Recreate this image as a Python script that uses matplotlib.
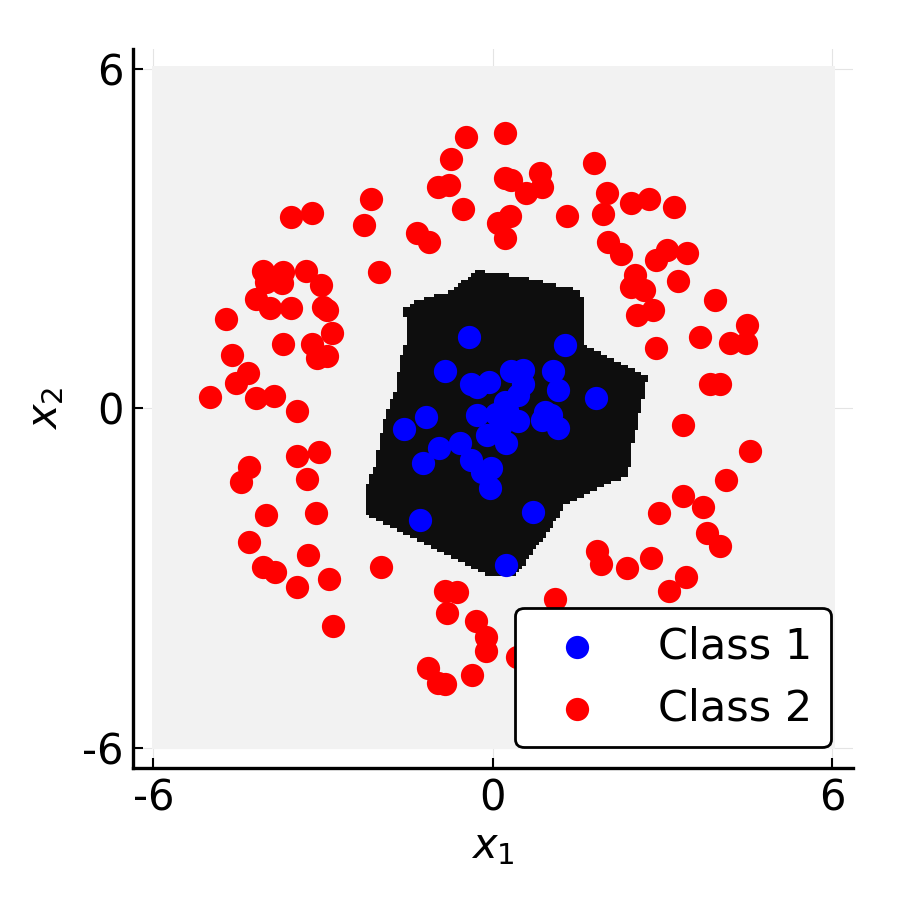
import numpy as np
import matplotlib
matplotlib.use("Agg")
import matplotlib.pyplot as plt
from matplotlib.path import Path
from matplotlib.colors import ListedColormap

# ---- data -------------------------------------------------------------
class1_x = [-0.415, 1.276, -0.845, -0.385, -0.274, -0.062, 0.316, 0.539, 0.539, 0.451,
            1.069, 1.147, 1.824, 0.216, -1.186, -1.564, -0.285, 0.057, 0.246, 0.451,
            0.923, 1.029, 1.158, 0.864, -0.108, 0.233, 0.127, -0.946, -0.580, -1.228,
            -0.385, -0.032, -0.196, -0.049, 0.716, -1.287, 0.233]
class1_y = [1.265, 1.119, 0.661, 0.424, 0.382, 0.470, 0.665, 0.677, 0.424, 0.235,
            0.659, 0.323, 0.187, 0.117, -0.148, -0.371, -0.118, -0.106, -0.030, -0.224,
            -0.060, -0.118, -0.353, -0.207, -0.472, -0.608, -0.325, -0.696, -0.608, -0.972,
            -0.914, -1.050, -1.121, -1.414, -1.827, -1.974, -2.770]

class2_x = [-0.479, 0.216, -0.744, -0.963, -0.769, 0.216, 0.322, -0.532, 0.097, 0.216,
            -2.153, -2.282, -1.345, -1.122, -3.567, -3.201, -2.006, -4.067, -3.703, -3.302,
            -3.042, -4.008, -3.731, -4.185, -3.938, -3.567, -3.006, -2.925, -4.721, -2.837,
            -3.713, -3.201, -2.936, -3.112, -4.615, -4.321, -4.539, -4.998, -4.185, -3.862,
            -3.455, 1.794, 0.834, 0.864, 0.581, 1.306, 2.013, 1.942, 2.437, 2.766,
            3.208, 0.304, 2.031, 2.261, 3.074, 2.884, 3.438, 2.513, 2.437, 2.672,
            3.279, 3.927, 2.543, 2.837, 4.488, 3.662, 2.879, 4.192, 4.470, 3.839,
            4.016, 3.356, -4.304, -4.456, -3.455, -3.066, -3.289, -4.008, -3.125, -4.309,
            -3.261, -4.067, -3.849, -3.466, -2.890, -2.819, -1.971, -0.845, -0.638, -0.815,
            -0.302, -0.120, -0.120, -1.140, -0.963, -0.845, -0.362, 4.540, 4.127, 3.367,
            3.710, 2.937, 3.791, 4.021, 1.847, 1.912, 2.367, 2.791, 3.415, 3.114,
            1.099, 0.422]
class2_y = [4.800, 4.860, 4.401, 3.906, 3.947, 4.065, 4.035, 3.517, 3.280, 3.005,
            3.694, 3.240, 3.104, 2.934, 3.386, 3.446, 2.404, 2.427, 2.414, 2.432,
            2.179, 2.238, 2.209, 1.926, 1.767, 1.767, 1.785, 1.737, 1.573, 1.336,
            1.136, 1.136, 0.924, 0.884, 0.942, 0.619, 0.452, 0.205, 0.177, 0.223,
            -0.048, 4.330, 4.164, 3.906, 3.811, 3.404, 3.811, 3.434, 3.634, 3.694,
            3.563, 3.399, 2.934, 2.722, 2.798, 2.621, 2.739, 2.356, 2.149, 2.091,
            2.255, 1.914, 1.649, 1.737, 1.472, 1.255, 1.060, 1.159, 1.159, 0.429,
            0.429, -0.295, -1.032, -1.297, -0.843, -0.778, -1.244, -1.886, -1.845, -2.358,
            -2.593, -2.800, -2.888, -3.153, -3.022, -3.848, -2.800, -3.224, -3.241, -3.623,
            -3.754, -4.047, -4.284, -4.585, -4.860, -4.873, -4.714, -0.755, -1.267, -1.550,
            -1.739, -1.856, -2.199, -2.428, -2.517, -2.757, -2.817, -2.641, -2.987, -3.224,
            -3.370, -4.401]

# decision-region boundary (class 1 region)
region_x = [-0.285, 0.180, 0.569, 1.152, 1.488, 1.577, 1.594, 1.665, 2.725, 2.549,
            2.425, 2.390, 2.071, 1.665, 1.364, 1.241, 1.011, 0.711, 0.481, 0.304,
            -0.049, -2.258, -2.258, -2.082, -1.976, -1.835, -1.729, -1.640, -1.534, -1.570,
            -1.410, -1.163, -0.969, -0.756, -0.633, -0.527, -0.403]
region_y = [2.414, 2.356, 2.303, 2.144, 2.091, 1.949, 1.118, 1.066, 0.536, -0.260,
            -0.737, -1.215, -1.321, -1.533, -1.657, -1.744, -2.151, -2.504, -2.858, -2.999,
            -2.999, -1.886, -1.445, -1.003, -0.437, 0.093, 0.323, 0.854, 1.154, 1.737,
            1.860, 1.949, 2.003, 2.056, 2.144, 2.232, 2.356]

ticks = [-6, 0, 6]
tick_labels = ["-6", "0", "6"]
legend_labels = ["Class 1", "Class 2"]

# ---- figure -----------------------------------------------------------
plt.rcParams['font.family'] = ['DejaVu Sans']
plt.rcParams['mathtext.fontset'] = 'dejavusans'

fig = plt.figure(figsize=(9, 9.08), dpi=100)
ax = fig.add_axes([0.1478, 0.1542, 0.7996, 0.7923])

# grid of the classifier output
g = np.linspace(-6, 6, 201)
GX, GY = np.meshgrid(g, g)
poly = Path(np.column_stack([region_x, region_y]))
inside = poly.contains_points(np.column_stack([GX.ravel(), GY.ravel()])).reshape(GX.shape)
cmap = ListedColormap(['#f2f2f2', '#0e0e0e'])
half = (g[1] - g[0]) / 2
ax.imshow(inside.astype(float), origin='lower', cmap=cmap, vmin=0, vmax=1,
          extent=(g[0] - half, g[-1] + half, g[0] - half, g[-1] + half),
          interpolation='nearest', aspect='auto', zorder=1)

ax.scatter(class1_x, class1_y, s=280, c='#0000ff', linewidths=0, label=legend_labels[0], zorder=3)
ax.scatter(class2_x, class2_y, s=280, c='#ff0000', linewidths=0, label=legend_labels[1], zorder=3)

ax.set_xlim(-6.36, 6.36)
ax.set_ylim(-6.36, 6.36)
ax.set_xticks(ticks)
ax.set_xticklabels(tick_labels)
ax.set_yticks(ticks)
ax.set_yticklabels(tick_labels)

ax.grid(True, color='#e4e4e4', linewidth=0.8, zorder=0)
ax.set_axisbelow(True)

for side in ['top', 'right']:
    ax.spines[side].set_visible(False)
for side in ['left', 'bottom']:
    ax.spines[side].set_linewidth(2.4)
    ax.spines[side].set_zorder(5)

ax.tick_params(direction='in', length=7.5, width=1.5, labelsize=30, pad=7, colors='black')

ax.set_xlabel('$x_1$', fontsize=30, labelpad=4)
ax.set_ylabel('$x_2$', fontsize=30, labelpad=11)

leg = ax.legend(loc='lower right', bbox_to_anchor=(0.9695, 0.029), borderaxespad=0,
                fontsize=31, frameon=True, fancybox=True, framealpha=1,
                edgecolor='black', facecolor='white', borderpad=0.42,
                labelspacing=0.45, handlelength=2.05, handletextpad=0.86)
leg.get_frame().set_linewidth(2.0)
leg.set_zorder(10)

fig.savefig('out.png', dpi=100)
